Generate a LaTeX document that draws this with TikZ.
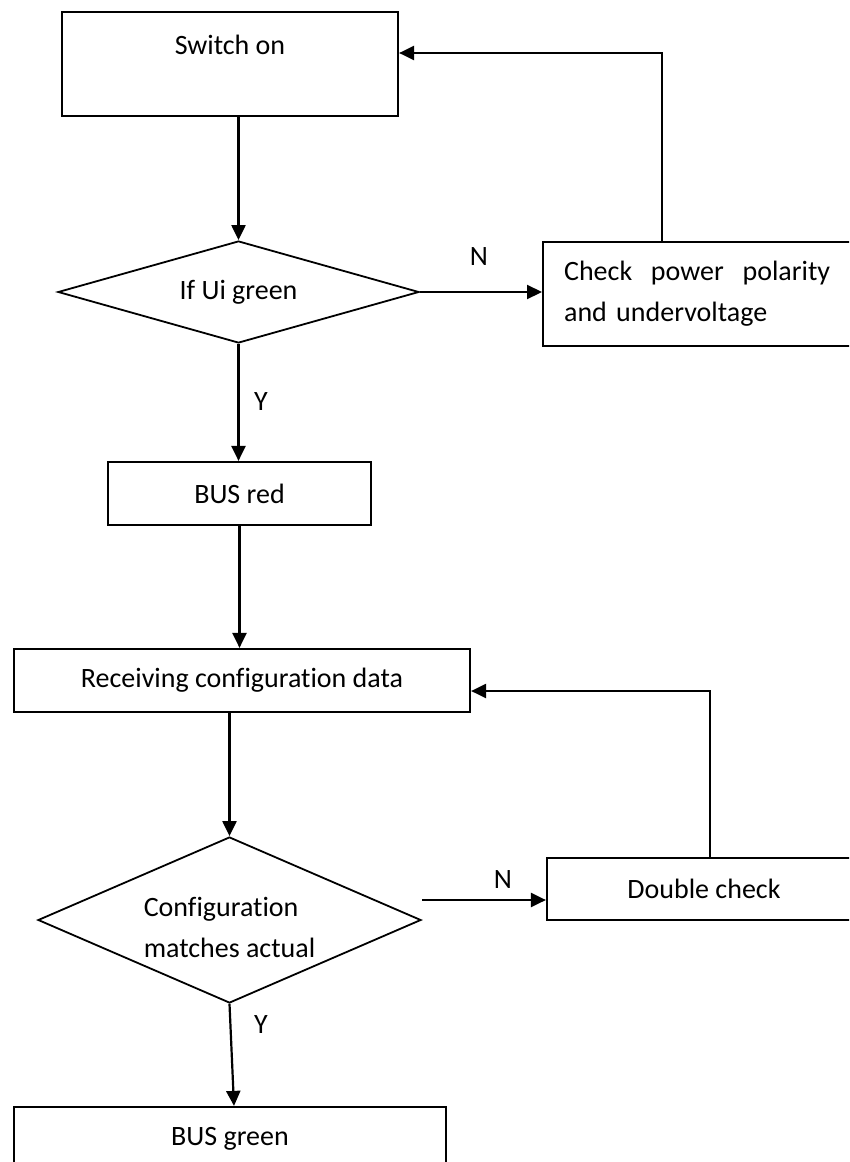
\documentclass[tikz,border=0pt]{standalone}
\usepackage{fontspec}
\setmainfont{Carlito}[Ligatures=NoCommon]
\usetikzlibrary{shapes.geometric,arrows.meta}
\begin{document}
\begin{tikzpicture}[
      x = 1pt, y = -1pt,
      stepbox/.style = {
        draw, rectangle, line width = 2.2pt, inner sep = 0pt,
        font = \fontsize{28}{41}\selectfont
      }, decide/.style = {
        draw, diamond, line width = 1.8pt, inner sep = 0pt,
        font = \fontsize{28}{41}\selectfont
      }, link/.style = {
        line width = 2.2pt,
        -{Triangle[length=15pt,width=14pt]}
      }
    ]
      \tikzset{tag/.style={inner sep=0pt,font=\fontsize{28}{41}\selectfont}}
      \useasboundingbox (0,0) rectangle (849,1162);
      \clip (0,0) rectangle (849,1162);
      \node[stepbox,minimum width=336pt,minimum height=104pt,text height=20pt,text depth=40pt] (sw) at (230,64) {Switch on};
      \node[decide,aspect=3.54,minimum width=361pt,minimum height=102pt] (ifui) at (238.5,292) {If Ui green};
      \node[stepbox,anchor=north west,minimum height=104pt,inner xsep=21pt,text width=290pt,align=left] (chk) at (542,241)
        {\makebox[266pt][s]{Check\hfill power\hfill polarity}\\and undervoltage};
      \node[stepbox,minimum width=263pt,minimum height=63pt] (red) at (239.5,493.5) {BUS red};
      \node[stepbox,minimum width=456pt,minimum height=63pt] (recv) at (242,680.5) {Receiving configuration data};
      \node[decide,aspect=2.31,minimum width=383pt,minimum height=166pt,align=left,text height=76pt] (cfg) at (229.5,920) {Configuration\\matches actual};
      \node[stepbox,minimum width=314pt,minimum height=62pt] (dbl) at (704,889) {Double check};
      \node[stepbox,minimum width=432pt,minimum height=63pt] (green) at (230,1138.5) {BUS green};
      \node[tag] (n1) at (479,257) {N};
      \node[tag] (y1) at (261,402) {Y};
      \node[tag] (n2) at (503,880) {N};
      \node[tag] (y2) at (261,1025) {Y};
      \coordinate (up1) at (662,53);
      \coordinate (out2) at (422,900);
      \coordinate (up2) at (710,691);
      \draw[link] (ifui.north |- sw.south) -- (ifui.north);
      \draw[link] (ifui.east) -- (chk.west |- ifui.east);
      \draw[link] (up1 |- chk.north) -- (up1) -- (up1 -| sw.east);
      \draw[link] (ifui.south) -- (ifui.south |- red.north);
      \draw[link] (red.south) -- (red.south |- recv.north);
      \draw[link] (cfg.north |- recv.south) -- (cfg.north);
      \draw[link] (out2) -- (out2 -| dbl.west);
      \draw[link] (up2 |- dbl.north) -- (up2) -- (up2 -| recv.east);
      \draw[link] (cfg.south) -- ([xshift=4pt]green.north);
    \end{tikzpicture}
\end{document}
